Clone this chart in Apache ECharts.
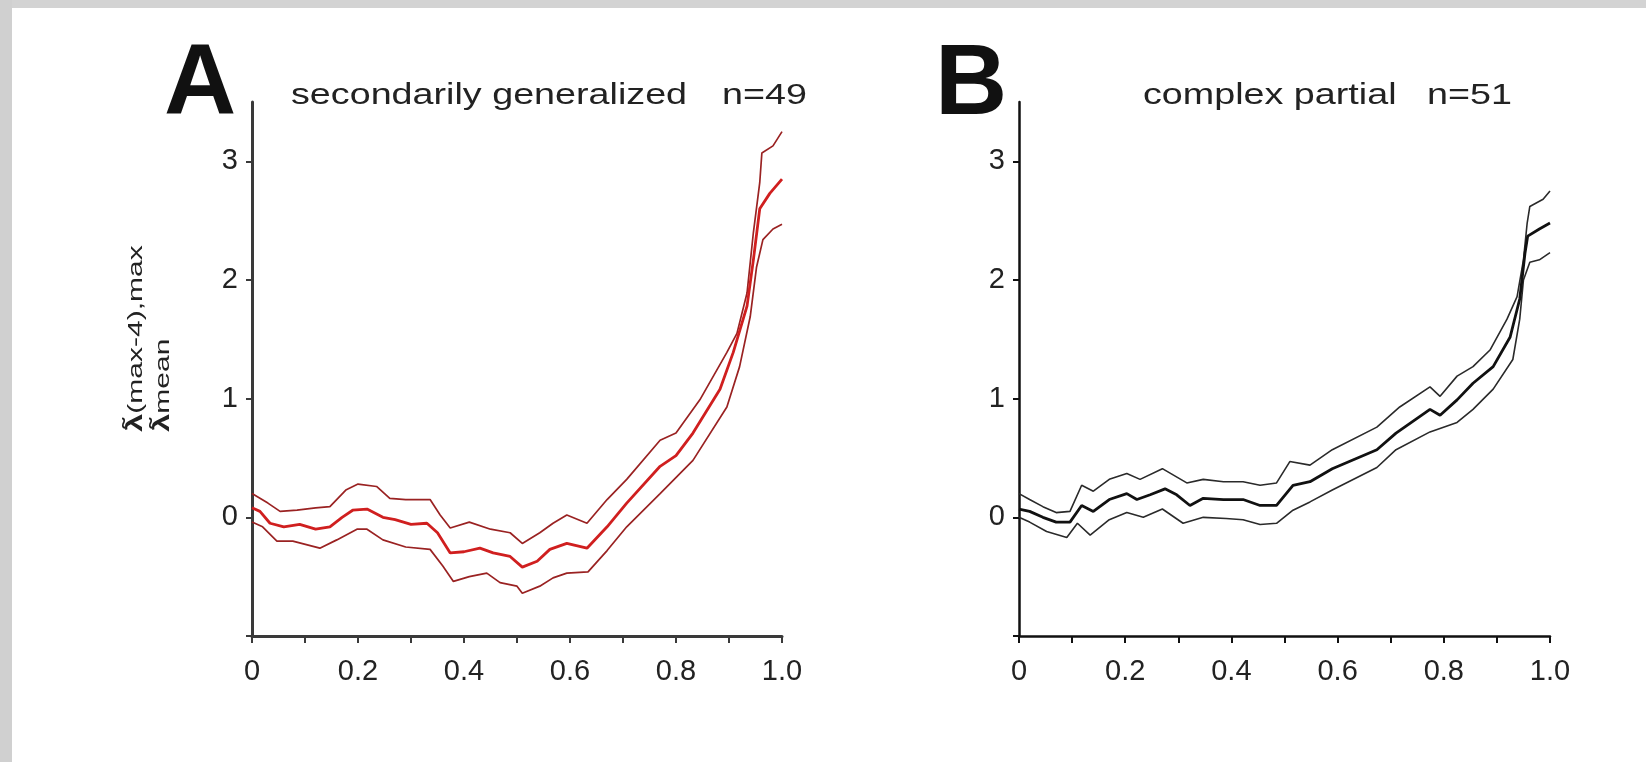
<!DOCTYPE html>
<html>
<head>
<meta charset="utf-8">
<script src="https://cdn.jsdelivr.net/npm/echarts@6/dist/echarts.min.js"></script>
<style>
html,body{margin:0;padding:0;background:#fff;}
#c{width:1646px;height:762px;}
</style>
</head>
<body>
<div id="c"></div>
<script>
// ---- data (x = normalised time, y = ratio) ----
const aUpper = [[0,0.2],[0.03,0.12],[0.053,0.05],[0.085,0.06],[0.12,0.08],[0.147,0.09],[0.177,0.23],[0.2,0.28],[0.235,0.26],[0.26,0.16],[0.29,0.15],[0.336,0.15],[0.355,0.02],[0.374,-0.09],[0.41,-0.04],[0.45,-0.10],[0.487,-0.13],[0.51,-0.22],[0.543,-0.13],[0.568,-0.05],[0.594,0.02],[0.632,-0.05],[0.67,0.15],[0.707,0.32],[0.77,0.65],[0.8,0.71],[0.845,0.99],[0.896,1.39],[0.915,1.55],[0.934,1.89],[0.946,2.4],[0.958,2.82],[0.962,3.07],[0.983,3.13],[1.0,3.25]];
const aMean = [[0,0.08],[0.015,0.05],[0.034,-0.05],[0.06,-0.08],[0.09,-0.06],[0.12,-0.10],[0.147,-0.08],[0.17,0.0],[0.19,0.06],[0.217,0.07],[0.247,0.0],[0.27,-0.02],[0.3,-0.06],[0.33,-0.05],[0.35,-0.13],[0.374,-0.30],[0.4,-0.29],[0.43,-0.26],[0.455,-0.30],[0.487,-0.33],[0.51,-0.42],[0.538,-0.37],[0.562,-0.27],[0.594,-0.22],[0.632,-0.26],[0.67,-0.08],[0.707,0.12],[0.77,0.43],[0.8,0.52],[0.832,0.71],[0.883,1.08],[0.908,1.39],[0.934,1.78],[0.946,2.17],[0.958,2.6],[0.977,2.73],[1.0,2.85]];
const aLower = [[0,-0.04],[0.02,-0.08],[0.047,-0.2],[0.077,-0.2],[0.128,-0.26],[0.16,-0.19],[0.198,-0.1],[0.217,-0.1],[0.247,-0.19],[0.29,-0.25],[0.336,-0.27],[0.36,-0.41],[0.38,-0.54],[0.41,-0.5],[0.443,-0.47],[0.468,-0.55],[0.5,-0.58],[0.51,-0.64],[0.543,-0.58],[0.568,-0.51],[0.594,-0.47],[0.634,-0.46],[0.67,-0.28],[0.707,-0.08],[0.77,0.2],[0.832,0.48],[0.896,0.93],[0.92,1.27],[0.94,1.69],[0.952,2.11],[0.964,2.34],[0.983,2.43],[1.0,2.47]];

const bUpper = [[0,0.2],[0.02,0.15],[0.045,0.09],[0.07,0.04],[0.096,0.05],[0.118,0.27],[0.14,0.22],[0.17,0.32],[0.203,0.37],[0.228,0.32],[0.27,0.41],[0.316,0.29],[0.347,0.32],[0.385,0.3],[0.422,0.3],[0.454,0.27],[0.485,0.29],[0.51,0.47],[0.548,0.44],[0.59,0.57],[0.674,0.76],[0.717,0.93],[0.774,1.1],[0.793,1.02],[0.825,1.19],[0.855,1.27],[0.887,1.41],[0.919,1.67],[0.938,1.86],[0.95,2.17],[0.957,2.48],[0.962,2.62],[0.987,2.68],[1.0,2.75]];
const bMean = [[0,0.07],[0.02,0.05],[0.045,0.0],[0.07,-0.04],[0.096,-0.04],[0.118,0.1],[0.14,0.05],[0.17,0.15],[0.203,0.2],[0.222,0.15],[0.247,0.19],[0.275,0.24],[0.297,0.19],[0.322,0.1],[0.347,0.16],[0.385,0.15],[0.422,0.15],[0.454,0.1],[0.485,0.1],[0.516,0.27],[0.548,0.3],[0.59,0.41],[0.674,0.57],[0.71,0.71],[0.774,0.91],[0.793,0.86],[0.825,0.99],[0.855,1.13],[0.893,1.27],[0.925,1.52],[0.943,1.84],[0.953,2.23],[0.958,2.37],[0.98,2.43],[1.0,2.48]];
const bLower = [[0,0.0],[0.02,-0.04],[0.052,-0.12],[0.09,-0.17],[0.11,-0.05],[0.134,-0.15],[0.17,-0.02],[0.203,0.04],[0.234,0.0],[0.27,0.07],[0.309,-0.05],[0.347,0.0],[0.39,-0.01],[0.422,-0.02],[0.454,-0.06],[0.485,-0.05],[0.516,0.06],[0.548,0.13],[0.59,0.23],[0.674,0.42],[0.71,0.57],[0.774,0.72],[0.825,0.8],[0.855,0.91],[0.893,1.08],[0.93,1.33],[0.943,1.67],[0.95,2.0],[0.962,2.15],[0.98,2.17],[1.0,2.23]];

const panelLetters = ['A', 'B'];
const panelTitles = ['secondarily generalized', 'complex partial'];
const panelCounts = ['n=49', 'n=51'];
const xTickLabels = {0:'0', 2:'0.2', 4:'0.4', 6:'0.6', 8:'0.8', 10:'1.0'};
const yTickLabels = {0:'0', 1:'1', 2:'2', 3:'3'};

// ---- chart ----
const FONT = '"Liberation Sans", Arial, sans-serif';
const chart = echarts.init(document.getElementById('c'), null, {renderer:'canvas'});

function xAxis(gi, col, w) {
  return {
    type:'value', gridIndex:gi, min:0, max:1, interval:0.1,
    axisLine:{show:true, onZero:false, lineStyle:{color:col, width:w}},
    axisTick:{show:true, length:7, lineStyle:{color:col, width:2}},
    splitLine:{show:false},
    axisLabel:{margin:21, fontSize:29, fontFamily:FONT, color:'#222',
      formatter:v => { const k = Math.round(v*10); return xTickLabels[k] !== undefined ? xTickLabels[k] : ''; }}
  };
}
function yAxis(gi, col, w) {
  return {
    type:'value', gridIndex:gi, min:-1, max:3.5, interval:1,
    axisLine:{show:true, onZero:false, lineStyle:{color:col, width:w}},
    axisTick:{show:true, length:6, lineStyle:{color:col, width:2}},
    splitLine:{show:false},
    axisLabel:{margin:14, fontSize:29, fontFamily:FONT, color:'#222',
      showMaxLabel:false,
      formatter:v => { const k = Math.round(v*100)/100; return yTickLabels[k] !== undefined ? yTickLabels[k] : ''; }}
  };
}
function line(data, gi, color, width) {
  return {type:'line', xAxisIndex:gi, yAxisIndex:gi, data:data, showSymbol:false, symbol:'none',
    smooth:false, lineStyle:{color:color, width:width}, z:3, silent:true};
}

const redMean = '#d01f1f', redCI = '#9a2222';
const blk = '#111';

const option = {
  animation:false,
  backgroundColor:'#ffffff',
  grid:[
    {left:252, top:102, width:530, height:534, containLabel:false},
    {left:1019, top:102, width:531, height:534, containLabel:false}
  ],
  xAxis:[xAxis(0,'#3a3a3a',3), xAxis(1,'#111',2.5)],
  yAxis:[yAxis(0,'#3a3a3a',3), yAxis(1,'#111',2.5)],
  series:[
    line(aUpper,0,redCI,1.7), line(aLower,0,redCI,1.7), line(aMean,0,redMean,2.8),
    line(bUpper,1,'#2a2a2a',1.6), line(bLower,1,'#2a2a2a',1.6), line(bMean,1,blk,2.8)
  ],
  graphic:[
    {type:'rect', shape:{x:0,y:0,width:1646,height:8}, style:{fill:'#d3d3d3'}, z:-1},
    {type:'rect', shape:{x:0,y:0,width:12,height:762}, style:{fill:'#d0d0d0'}, z:-1},
    {type:'text', x:164, y:86, style:{text:panelLetters[0], font:'bold 100px '+FONT, fill:'#111', textAlign:'left', textVerticalAlign:'middle'}},
    {type:'text', x:935, y:86, style:{text:panelLetters[1], font:'bold 100px '+FONT, fill:'#111', textAlign:'left', textVerticalAlign:'middle'}},
    {type:'text', x:291, y:96, scaleX:1.3, style:{text:panelTitles[0], font:'29px '+FONT, fill:'#222', textAlign:'left', textVerticalAlign:'middle'}},
    {type:'text', x:722, y:96, scaleX:1.3, style:{text:panelCounts[0], font:'29px '+FONT, fill:'#222', textAlign:'left', textVerticalAlign:'middle'}},
    {type:'text', x:1143, y:96, scaleX:1.3, style:{text:panelTitles[1], font:'29px '+FONT, fill:'#222', textAlign:'left', textVerticalAlign:'middle'}},
    {type:'text', x:1427, y:96, scaleX:1.3, style:{text:panelCounts[1], font:'29px '+FONT, fill:'#222', textAlign:'left', textVerticalAlign:'middle'}},
    {type:'text', x:136, y:432, rotation:Math.PI/2, scaleX:1.5,
      style:{text:'{l|λ̃}{s|(max-4),max}', fill:'#222', textAlign:'left', textVerticalAlign:'middle',
        rich:{l:{fontSize:22, fontFamily:FONT, fontWeight:'bold', fill:'#222'}, s:{fontSize:20, fontFamily:FONT, fill:'#222'}}}},
    {type:'text', x:163, y:432, rotation:Math.PI/2, scaleX:1.5,
      style:{text:'{l|λ̃}{s|mean}', fill:'#222', textAlign:'left', textVerticalAlign:'middle',
        rich:{l:{fontSize:22, fontFamily:FONT, fontWeight:'bold', fill:'#222'}, s:{fontSize:20, fontFamily:FONT, fill:'#222'}}}}
  ]
};
chart.setOption(option);
</script>
</body>
</html>
